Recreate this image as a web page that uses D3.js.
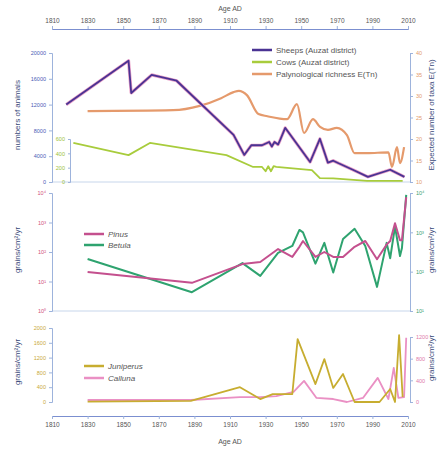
<!DOCTYPE html>
<html>
<head>
<meta charset="utf-8">
<script src="https://cdn.jsdelivr.net/npm/d3@7"></script>
<style>
  body { margin: 0; background: #fff; }
  svg { font-family: "Liberation Sans", Arial, sans-serif; }
</style>
</head>
<body>
<svg id="chart" width="442" height="450"></svg>
<script>
// Year ticks for the shared x axis
const yearTicks = [1810, 1830, 1850, 1870, 1890, 1910, 1930, 1950, 1970, 1990, 2010];

// Panel 1: animals and richness
const sheepYears  = [1818, 1853, 1854.5, 1866, 1880, 1912, 1918, 1922, 1928, 1932, 1933.5, 1935, 1937, 1938, 1941, 1955, 1960.5, 1965, 1968, 1971, 1979, 1987.5, 2000, 2008];
const sheepValues = [12000, 18800, 13800, 16600, 15700, 7300, 4200, 5700, 5700, 6200, 5500, 6200, 5800, 6400, 8400, 3100, 6700, 3000, 3300, 2900, 1900, 800, 1900, 800];

const cowYears  = [1822, 1853, 1865, 1908, 1923, 1928, 1930, 1931.5, 1933, 1934.5, 1936, 1956, 1960.5, 1968, 1987, 2007];
const cowValues = [545, 375, 545, 375, 210, 210, 150, 220, 150, 220, 210, 165, 55, 50, 15, 15];

const richYears  = [1830, 1878, 1893, 1905, 1912, 1915, 1919.5, 1926, 1931, 1942, 1947.6, 1951.6, 1956.6, 1960.6, 1965, 1970, 1975.7, 1980, 1987, 1999, 2001, 2003.8, 2005.5, 2007.8];
const richValues = [26.5, 26.7, 27.7, 29.5, 30.9, 31.2, 30.2, 25.8, 25.3, 24.6, 28.1, 21.4, 24.6, 22.8, 22.1, 22.6, 20.9, 16.7, 16.7, 16.9, 13.5, 18.1, 14.4, 18.1];

// Panel 2: Pinus (left log axis) and Betula (right log axis)
const pollenYears  = [1830, 1888.6, 1917, 1927, 1937, 1945, 1949, 1951, 1958, 1963, 1968, 1973.5, 1980, 1986, 1992.6, 1998, 2000, 2002.7, 2005.5, 2006.6, 2009];
const pinusValues  = [21, 9, 39, 46, 126, 68, 150, 236, 68, 100, 68, 68, 150, 236, 57, 180, 236, 950, 250, 250, 7200];
const betulaValues = [210, 30, 165, 78, 300, 450, 1150, 1000, 160, 540, 95, 680, 1230, 450, 41, 540, 220, 1400, 250, 400, 9000];

// Panel 3: Juniperus (left) and Calluna (right)
const juniperusYears  = [1830, 1888, 1915.6, 1927, 1934, 1945, 1948, 1958, 1963, 1968, 1973.5, 1980, 1994, 2000, 2002.7, 2005, 2007];
const juniperusValues = [10, 30, 400, 80, 215, 215, 1700, 485, 1160, 380, 755, 0, 0, 350, 0, 1810, 135];

const callunaYears  = [1830, 1888, 1915.6, 1927, 1936, 1945.7, 1951.6, 1958.6, 1968, 1975.7, 1984.7, 1993, 1999, 2002, 2004.6, 2007.8, 2009];
const callunaValues = [37, 37, 90, 90, 110, 185, 390, 75, 55, 0, 75, 445, 55, 630, 75, 90, 1185];

const leftTicks1  = [0, 4000, 8000, 12000, 16000, 20000];
const cowTicks    = [0, 200, 400, 600];
const richTicks   = [10, 15, 20, 25, 30, 35, 40];
const pinusTicks  = [1, 10, 100, 1000, 10000];
const betulaTicks = [10, 100, 1000, 10000];
const junTicks    = [0, 400, 800, 1200, 1600, 2000];
const callTicks   = [0, 400, 800, 1200];

const svg = d3.select("#chart");
const left = 52, right = 410;
const fmt = d3.format("d");

const x = d3.scaleLinear().domain([1810, 2010]).range([52, 408]);

// scales
const ySheep = d3.scaleLinear().domain([0, 20000]).range([182, 53]);
const yCow   = d3.scaleLinear().domain([0, 600]).range([182, 139]);
const yRich  = d3.scaleLinear().domain([10, 40]).range([182, 53]);
const yPinus = d3.scaleLog().domain([1, 10000]).range([311, 193]);
const yBet   = d3.scaleLog().domain([10, 10000]).range([311, 193]);
const yJun   = d3.scaleLinear().domain([0, 2000]).range([402, 328]);
const yCall  = d3.scaleLinear().domain([0, 1200]).range([402, 337]);

const sup = {0: "\u2070", 1: "\u00b9", 2: "\u00b2", 3: "\u00b3", 4: "\u2074"};
const powFmt = d => "10" + sup[Math.round(Math.log10(d))];

function styleAxis(g, color) {
  g.selectAll("text").attr("fill", color).style("font-size", "5.5px");
  g.selectAll(".tick line").attr("stroke", "#9db3dc");
  g.select(".domain").attr("stroke", "#9db3dc");
}

// top and bottom year axes
const topAxis = svg.append("g").attr("transform", "translate(0,29)")
  .call(d3.axisTop(x).tickValues(yearTicks).tickFormat(fmt).tickSize(3));
topAxis.call(styleAxis, "#555");
topAxis.selectAll("text").style("font-size", "6.5px");
topAxis.select(".domain").attr("stroke", "#7b8fd0");

const botAxis = svg.append("g").attr("transform", "translate(0,416)")
  .call(d3.axisBottom(x).tickValues(yearTicks).tickFormat(fmt).tickSize(3));
botAxis.call(styleAxis, "#555");
botAxis.selectAll("text").style("font-size", "6.5px");
botAxis.select(".domain").attr("stroke", "#7b8fd0");

svg.append("text").attr("x", 230).attr("y", 11).attr("text-anchor", "middle")
  .attr("fill", "#555").style("font-size", "7px").text("Age AD");
svg.append("text").attr("x", 230).attr("y", 444).attr("text-anchor", "middle")
  .attr("fill", "#555").style("font-size", "7px").text("Age AD");

// panel baselines
[182, 311].forEach(yy => {
  svg.append("line").attr("x1", left).attr("x2", right).attr("y1", yy).attr("y2", yy)
    .attr("stroke", "#b9cbe6").attr("stroke-width", 0.8);
});

// panel 1 axes
svg.append("g").attr("transform", `translate(${left},0)`)
  .call(d3.axisLeft(ySheep).tickValues(leftTicks1).tickFormat(fmt).tickSize(3))
  .call(styleAxis, "#4a5ab5");
svg.append("g").attr("transform", "translate(70,0)")
  .call(d3.axisLeft(yCow).tickValues(cowTicks).tickFormat(fmt).tickSize(2))
  .call(styleAxis, "#9cc23a");
svg.append("g").attr("transform", `translate(${right},0)`)
  .call(d3.axisRight(yRich).tickValues(richTicks).tickFormat(fmt).tickSize(3))
  .call(styleAxis, "#e39a6a");

// panel 2 axes
svg.append("g").attr("transform", `translate(${left},0)`)
  .call(d3.axisLeft(yPinus).tickValues(pinusTicks).tickFormat(powFmt).tickSize(3))
  .call(styleAxis, "#d0507a");
svg.append("g").attr("transform", `translate(${right},0)`)
  .call(d3.axisRight(yBet).tickValues(betulaTicks).tickFormat(powFmt).tickSize(3))
  .call(styleAxis, "#3aa070");

// panel 3 axes
svg.append("g").attr("transform", `translate(${left},0)`)
  .call(d3.axisLeft(yJun).tickValues(junTicks).tickFormat(fmt).tickSize(3))
  .call(styleAxis, "#c9a93a");
svg.append("g").attr("transform", `translate(${right},0)`)
  .call(d3.axisRight(yCall).tickValues(callTicks).tickFormat(fmt).tickSize(3))
  .call(styleAxis, "#e07aa8");

// axis titles
function vTitle(xx, yy, txt) {
  svg.append("text").attr("transform", `translate(${xx},${yy}) rotate(-90)`)
    .attr("text-anchor", "middle").attr("fill", "#3a4a7a").style("font-size", "8px").text(txt);
}
vTitle(20, 115, "numbers of animals");
vTitle(20, 250, "grains/cm\u00b2/yr");
vTitle(20, 362, "grains/cm\u00b2/yr");
vTitle(434, 115, "Expected number of taxa E(Tn)");
vTitle(434, 250, "grains/cm\u00b2/yr");
vTitle(434, 358, "grains/cm\u00b2/yr");

// draw lines
function drawLine(xs, ys, yScale, color, w, curve) {
  const pts = xs.map((d, i) => [x(d), yScale(ys[i])]);
  svg.append("path").attr("d", d3.line().curve(curve || d3.curveLinear)(pts))
    .attr("fill", "none").attr("stroke", color).attr("stroke-width", w || 2)
    .attr("stroke-linejoin", "round");
}

drawLine(richYears, richValues, yRich, "#e59a6c", 2.2, d3.curveMonotoneX);
drawLine(cowYears, cowValues, yCow, "#a8cc3c", 1.8);
drawLine(sheepYears, sheepValues, ySheep, "#e9a0c8", 3.2);
drawLine(sheepYears, sheepValues, ySheep, "#4a3393", 1.8);

drawLine(pollenYears, betulaValues, yBet, "#2ea36f", 2);
drawLine(pollenYears, pinusValues, yPinus, "#c4508e", 2);

drawLine(callunaYears, callunaValues, yCall, "#ea90c4", 1.8);
drawLine(juniperusYears, juniperusValues, yJun, "#c7ad30", 1.8);

// legends
function legend(x0, y0, items, italic) {
  items.forEach((it, i) => {
    const yy = y0 + i * it.step;
    svg.append("line").attr("x1", x0).attr("x2", x0 + 20).attr("y1", yy).attr("y2", yy)
      .attr("stroke", it.color).attr("stroke-width", 2.5);
    svg.append("text").attr("x", x0 + 24).attr("y", yy + 3)
      .attr("fill", "#555").style("font-size", "8px")
      .style("font-style", italic ? "italic" : "normal").text(it.label);
  });
}
legend(252, 50, [
  {label: "Sheeps (Auzat district)", color: "#4a3393", step: 12},
  {label: "Cows (Auzat district)", color: "#a8cc3c", step: 12},
  {label: "Palynological richness E(Tn)", color: "#e59a6c", step: 12}
], false);
legend(84, 234, [
  {label: "Pinus", color: "#c4508e", step: 11},
  {label: "Betula", color: "#2ea36f", step: 11}
], true);
legend(84, 366, [
  {label: "Juniperus", color: "#c7ad30", step: 12},
  {label: "Calluna", color: "#ea90c4", step: 12}
], true);
</script>
</body>
</html>
